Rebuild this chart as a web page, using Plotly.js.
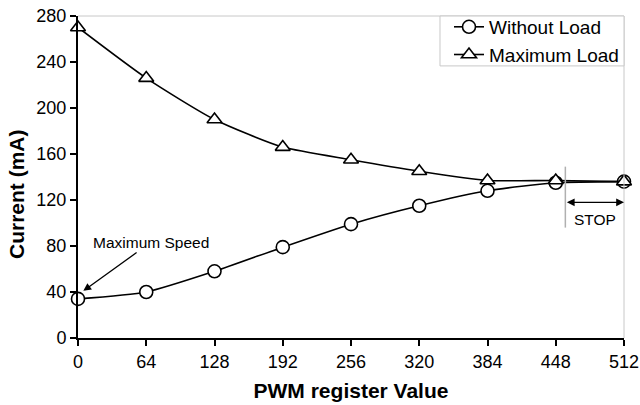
<!DOCTYPE html>
<html>
<head>
<meta charset="utf-8">
<script src="https://cdn.plot.ly/plotly-3.0.1.min.js"></script>
<style>html,body{margin:0;padding:0;background:#fff;}#chart{width:640px;height:405px;}</style>
</head>
<body>
<div id="chart"></div>
<script>
const pwm = [0, 64, 128, 192, 256, 320, 384, 448, 512];
const withoutLoad = [34, 40, 58, 79, 99, 115, 128, 135, 136];
const maximumLoad = [270, 226, 190, 166, 155, 145, 137, 137, 136];
const xTicks = [0, 64, 128, 192, 256, 320, 384, 448, 512];
const yTicks = [0, 40, 80, 120, 160, 200, 240, 280];

const font = 'Arial, "Liberation Sans", sans-serif';

const traces = [
  {
    x: pwm, y: withoutLoad, name: 'Without Load', type: 'scatter', mode: 'lines+markers',
    line: {color: '#000', width: 1.6, shape: 'spline', smoothing: 0.6},
    marker: {symbol: 'circle', size: 13, color: '#fff', line: {color: '#000', width: 1.6}},
    cliponaxis: false
  },
  {
    x: pwm, y: maximumLoad, name: 'Maximum Load', type: 'scatter', mode: 'lines+markers',
    line: {color: '#000', width: 1.6, shape: 'spline', smoothing: 0.6},
    marker: {symbol: 'triangle-up', size: 13, color: '#fff', line: {color: '#000', width: 1.6}},
    cliponaxis: false
  }
];

const layout = {
  width: 640, height: 405,
  margin: {l: 78, r: 16, t: 16, b: 67, autoexpand: false},
  paper_bgcolor: '#fff', plot_bgcolor: '#fff',
  font: {family: font, size: 18, color: '#000'},
  showlegend: true,
  legend: {x: 1, xanchor: 'right', y: 1.025, yanchor: 'top', borderwidth: 0,
           bgcolor: 'rgba(0,0,0,0)', font: {size: 19}, tracegroupgap: 0, itemwidth: 30},
  xaxis: {
    range: [0, 512], tickvals: xTicks, ticktext: xTicks.map(String),
    showgrid: false, zeroline: false, showline: true, linecolor: '#000', linewidth: 2,
    ticks: 'outside', ticklen: 6, tickwidth: 2, tickcolor: '#000',
    tickfont: {size: 18},
    title: {text: '<b>PWM register Value</b>', font: {size: 21}, standoff: 13}
  },
  yaxis: {
    range: [0, 280], tickvals: yTicks, ticktext: yTicks.map(String),
    showgrid: false, zeroline: false, showline: true, linecolor: '#000', linewidth: 2,
    ticks: 'outside', ticklen: 6, tickwidth: 2, tickcolor: '#000',
    tickfont: {size: 18}
  },
  shapes: [
    {type: 'line', xref: 'paper', yref: 'paper', x0: 0, x1: 1, y0: 1, y1: 1, line: {color: '#c8c8c8', width: 1}},
    {type: 'line', xref: 'paper', yref: 'paper', x0: 1, x1: 1, y0: 0, y1: 1, line: {color: '#c8c8c8', width: 1}},
    {type: 'rect', xref: 'paper', yref: 'paper', x0: 0.663, x1: 1, y0: 0.845, y1: 1,
     line: {color: '#c8c8c8', width: 1}, fillcolor: '#fff'},
    {type: 'line', xref: 'x', yref: 'y', x0: 457, x1: 457, y0: 96, y1: 149, line: {color: '#b0b0b0', width: 1.5}}
  ],
  annotations: [
    {xref: 'paper', yref: 'paper', x: -0.1136, y: 0.447, text: '<b>Current (mA)</b>', textangle: -90,
     showarrow: false, font: {size: 21, color: '#000'}, xanchor: 'center', yanchor: 'middle'},
    {x: 5, y: 41, xref: 'x', yref: 'y', ax: 68, ay: 83, axref: 'x', ayref: 'y',
     text: 'Maximum Speed', showarrow: true, arrowhead: 2, arrowsize: 1.2, arrowwidth: 1.3, arrowcolor: '#000',
     font: {size: 15.5, color: '#000'}},
    {x: 512, y: 118, xref: 'x', yref: 'y', ax: 457, ay: 118, axref: 'x', ayref: 'y',
     text: '', showarrow: true, arrowhead: 2, startarrowhead: 2, arrowside: 'end+start', arrowsize: 1.2, arrowwidth: 1.3,
     arrowcolor: '#000', standoff: 0, startstandoff: 0},
    {x: 485, y: 103, xref: 'x', yref: 'y', text: 'STOP', showarrow: false, font: {size: 15.5, color: '#000'}}
  ]
};

Plotly.newPlot('chart', traces, layout, {displayModeBar: false, staticPlot: true});
</script>
</body>
</html>
